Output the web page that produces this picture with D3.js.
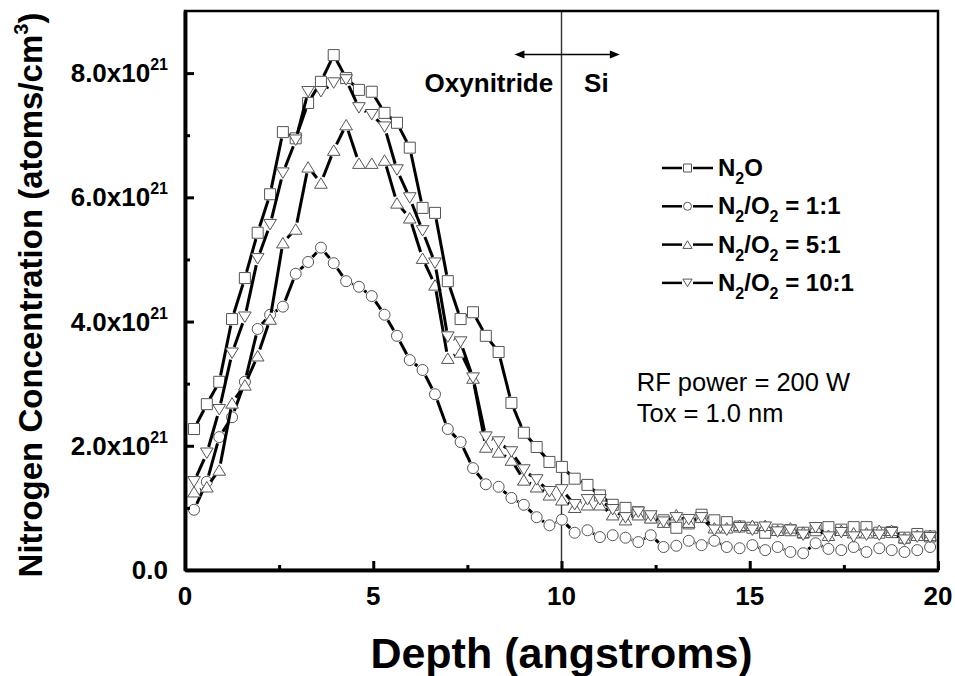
<!DOCTYPE html>
<html><head><meta charset="utf-8">
<script src="https://cdn.jsdelivr.net/npm/d3@7"></script>
<style>
body{margin:0;background:#fff}
svg{display:block;font-family:"Liberation Sans",Arial,sans-serif}
</style>
</head><body>
<svg id="chart" width="955" height="676"></svg>
<script>
// Depth grid (angstroms) shared by all four SIMS profiles
const depth = [0.24,0.58,0.91,1.25,1.59,1.93,2.26,2.60,2.94,3.27,3.61,3.95,4.28,4.62,4.96,5.30,5.63,5.97,6.31,6.64,6.98,7.32,7.65,7.99,8.33,8.67,9.00,9.34,9.68,10.01,10.35,10.69,11.02,11.36,11.70,12.04,12.37,12.71,13.05,13.38,13.72,14.06,14.39,14.73,15.07,15.41,15.74,16.08,16.42,16.75,17.09,17.43,17.76,18.10,18.44,18.77,19.11,19.45,19.79];

// Nitrogen concentration, units of 1e21 atoms/cm^3
const n2o = [2.27,2.67,3.03,4.04,4.70,5.43,6.05,7.05,6.95,7.52,7.86,8.29,7.92,7.73,7.70,7.36,7.20,6.80,5.83,5.75,4.65,4.04,4.15,3.77,3.51,2.69,2.21,1.98,1.74,1.66,1.47,1.37,1.20,1.05,1.00,0.93,0.85,0.80,0.68,0.75,0.89,0.80,0.77,0.70,0.68,0.60,0.65,0.64,0.60,0.64,0.69,0.65,0.69,0.69,0.60,0.61,0.52,0.58,0.54];
const ratio1to1 = [0.97,1.42,2.14,2.46,3.03,3.88,4.11,4.24,4.77,4.96,5.19,4.94,4.65,4.56,4.41,4.11,3.77,3.38,3.22,2.83,2.27,2.06,1.64,1.38,1.34,1.16,1.05,0.85,0.72,0.81,0.60,0.64,0.53,0.56,0.52,0.45,0.56,0.37,0.39,0.47,0.40,0.47,0.37,0.35,0.40,0.32,0.37,0.29,0.27,0.43,0.34,0.32,0.37,0.29,0.35,0.32,0.29,0.32,0.37];
const ratio5to1 = [1.26,1.34,1.61,2.69,2.98,3.45,4.04,5.27,5.49,6.49,6.23,6.76,7.17,6.55,6.55,6.60,5.91,5.67,5.02,4.59,3.41,3.51,3.09,1.98,1.90,1.77,1.45,1.34,1.21,1.13,1.01,1.05,1.05,0.89,0.81,0.89,0.84,0.77,0.89,0.77,0.85,0.68,0.68,0.72,0.72,0.72,0.64,0.68,0.61,0.69,0.56,0.64,0.60,0.60,0.64,0.64,0.52,0.56,0.56];
const ratio10to1 = [1.42,1.88,2.58,3.49,4.07,5.01,5.56,6.39,6.92,7.70,7.70,7.84,7.89,7.44,7.33,7.13,6.44,5.99,5.46,4.94,3.75,3.67,3.09,2.14,2.06,1.90,1.61,1.45,1.26,1.29,1.05,1.13,1.13,0.97,0.84,0.93,0.87,0.77,0.84,0.81,0.84,0.64,0.64,0.68,0.64,0.69,0.61,0.64,0.56,0.68,0.53,0.60,0.53,0.56,0.56,0.60,0.48,0.53,0.52];

const xTicks = [0,5,10,15,20];
const xMinorTicks = [2.5,7.5,12.5,17.5];
const yTicks = [0,2,4,6,8];
const yMinorTicks = [1,3,5,7];
const yTickMantissa = ["0.0","2.0x10","4.0x10","6.0x10","8.0x10"];
const yTickExponent = ["","21","21","21","21"];

// legend label pieces: [text, "sub" | ""]
const series = [
  {values:n2o,        marker:"square",  label:[["N",""],["2","sub"],["O",""]]},
  {values:ratio1to1,  marker:"circle",  label:[["N",""],["2","sub"],["/O",""],["2","sub"],[" = 1:1",""]]},
  {values:ratio5to1,  marker:"up",      label:[["N",""],["2","sub"],["/O",""],["2","sub"],[" = 5:1",""]]},
  {values:ratio10to1, marker:"down",    label:[["N",""],["2","sub"],["/O",""],["2","sub"],[" = 10:1",""]]}
];

const svg = d3.select("#chart");
const plotLeft = 185, plotRight = 938, plotTop = 11, plotBottom = 570;
const x = d3.scaleLinear().domain([0,20]).range([plotLeft,plotRight]);
const y = d3.scaleLinear().domain([0,9]).range([plotBottom,plotTop]);

function markerPath(kind, s){
  const h = s/2;
  if (kind === "square") return `M${-h},${-h}H${h}V${h}H${-h}Z`;
  if (kind === "circle") return d3.symbol(d3.symbolCircle, Math.PI*h*h)();
  if (kind === "up") return `M0,${-h*0.95}L${h*1.15},${h*0.95}L${-h*1.15},${h*0.95}Z`;
  return `M0,${h*0.95}L${h*1.15},${-h*0.95}L${-h*1.15},${-h*0.95}Z`;
}

// Interface line at 10 angstroms
svg.append("line")
  .attr("x1",x(10)).attr("x2",x(10)).attr("y1",plotTop).attr("y2",plotBottom)
  .attr("stroke","#333").attr("stroke-width",1.4);

// Series: segments with a gap around each symbol, then hollow symbols
const gap = 6.5;
series.forEach(s=>{
  const pts = depth.map((d,i)=>[x(d), y(s.values[i])]);
  const g = svg.append("g");
  for (let i=0;i<pts.length-1;i++){
    const [x0,y0]=pts[i],[x1,y1]=pts[i+1];
    const dx=x1-x0, dy=y1-y0, L=Math.hypot(dx,dy);
    if (L <= 2*gap+0.5) continue;
    const ux=dx/L, uy=dy/L;
    g.append("line")
      .attr("x1",x0+ux*gap).attr("y1",y0+uy*gap)
      .attr("x2",x1-ux*gap).attr("y2",y1-uy*gap)
      .attr("stroke","#000").attr("stroke-width",3);
  }
  svg.append("g").selectAll("path").data(pts).join("path")
    .attr("transform",d=>`translate(${d[0]},${d[1]})`)
    .attr("d",markerPath(s.marker,11))
    .attr("fill","#fff").attr("stroke","#555").attr("stroke-width",1);
});

// Frame
svg.append("rect").attr("x",plotLeft).attr("y",plotTop).attr("width",plotRight-plotLeft).attr("height",plotBottom-plotTop)
  .attr("fill","none").attr("stroke","#000").attr("stroke-width",2.5);

// Axes with inward ticks
const xAxis = svg.append("g").attr("transform",`translate(0,${plotBottom})`)
  .call(d3.axisBottom(x).tickValues(xTicks).tickSize(-9).tickSizeOuter(0).tickFormat(""));
const xAxisMinor = svg.append("g").attr("transform",`translate(0,${plotBottom})`)
  .call(d3.axisBottom(x).tickValues(xMinorTicks).tickSize(-5).tickSizeOuter(0).tickFormat(""));
const yAxis = svg.append("g").attr("transform",`translate(${plotLeft},0)`)
  .call(d3.axisLeft(y).tickValues(yTicks).tickSize(-9).tickSizeOuter(0).tickFormat(""));
const yAxisMinor = svg.append("g").attr("transform",`translate(${plotLeft},0)`)
  .call(d3.axisLeft(y).tickValues(yMinorTicks).tickSize(-5).tickSizeOuter(0).tickFormat(""));
[xAxis,xAxisMinor,yAxis,yAxisMinor].forEach(a=>{
  a.select(".domain").attr("stroke","#000").attr("stroke-width",3.5);
  a.selectAll(".tick line").attr("stroke","#000").attr("stroke-width",3);
});

// Tick labels
svg.append("g").selectAll("text").data(xTicks).join("text")
  .attr("x",d=>x(d)).attr("y",plotBottom+35)
  .attr("text-anchor","middle").attr("font-size",26).attr("font-weight","bold")
  .text(d=>d);
const yl = svg.append("g").selectAll("text").data(yTicks).join("text")
  .attr("x",168).attr("y",d=>y(d)+9)
  .attr("text-anchor","end").attr("font-size",26).attr("font-weight","bold");
yl.append("tspan").text((d,i)=>yTickMantissa[i]);
yl.append("tspan").attr("font-size",16).attr("dy",-12).text((d,i)=>yTickExponent[i]);

// Axis titles
svg.append("text").attr("x",(plotLeft+plotRight)/2).attr("y",668)
  .attr("text-anchor","middle").attr("font-size",43).attr("font-weight","bold")
  .text("Depth (angstroms)");
const yt = svg.append("text").attr("transform",`translate(42,295) rotate(-90)`)
  .attr("text-anchor","middle").attr("font-size",33).attr("font-weight","bold");
yt.append("tspan").text("Nitrogen Concentration (atoms/cm");
yt.append("tspan").attr("font-size",20).attr("dy",-14).text("3");
yt.append("tspan").attr("dy",14).text(")");

// Oxynitride / Si annotation with double arrow
const ay = y(8.3);
const ax0 = x(8.75), ax1 = x(11.55);
svg.append("line").attr("x1",ax0+8).attr("x2",ax1-8).attr("y1",ay).attr("y2",ay)
  .attr("stroke","#000").attr("stroke-width",1.5);
svg.append("path").attr("d",`M${ax0},${ay}l10,-4v8z M${ax1},${ay}l-10,-4v8z`).attr("fill","#000");
svg.append("text").attr("x",x(9.78)).attr("y",y(7.70)).attr("text-anchor","end")
  .attr("font-size",26).attr("font-weight","bold").text("Oxynitride");
svg.append("text").attr("x",x(10.6)).attr("y",y(7.70))
  .attr("font-size",26).attr("font-weight","bold").text("Si");

// Process conditions
svg.append("text").attr("x",x(12.0)).attr("y",y(2.88)).attr("font-size",25.5).text("RF power = 200 W");
svg.append("text").attr("x",x(12.0)).attr("y",y(2.38)).attr("font-size",25.5).text("Tox = 1.0 nm");

// Legend
const lg = svg.append("g").attr("transform","translate(662,168)");
series.forEach((s,i)=>{
  const row = lg.append("g").attr("transform",`translate(0,${i*38.3})`);
  row.append("line").attr("x1",0).attr("x2",20).attr("stroke","#000").attr("stroke-width",2.5);
  row.append("line").attr("x1",31).attr("x2",51).attr("stroke","#000").attr("stroke-width",2.5);
  row.append("path").attr("transform","translate(25.5,0)").attr("d",markerPath(s.marker,8))
    .attr("fill","#fff").attr("stroke","#555").attr("stroke-width",1);
  const t = row.append("text").attr("x",56).attr("y",8).attr("font-size",24).attr("font-weight","bold");
  let shifted = 0;
  s.label.forEach(([txt,kind])=>{
    const sp = t.append("tspan").text(txt);
    if (kind==="sub"){ sp.attr("font-size",16).attr("dy",8-shifted); shifted=8; }
    else { sp.attr("dy",-shifted); shifted=0; }
  });
});
</script>
</body></html>
